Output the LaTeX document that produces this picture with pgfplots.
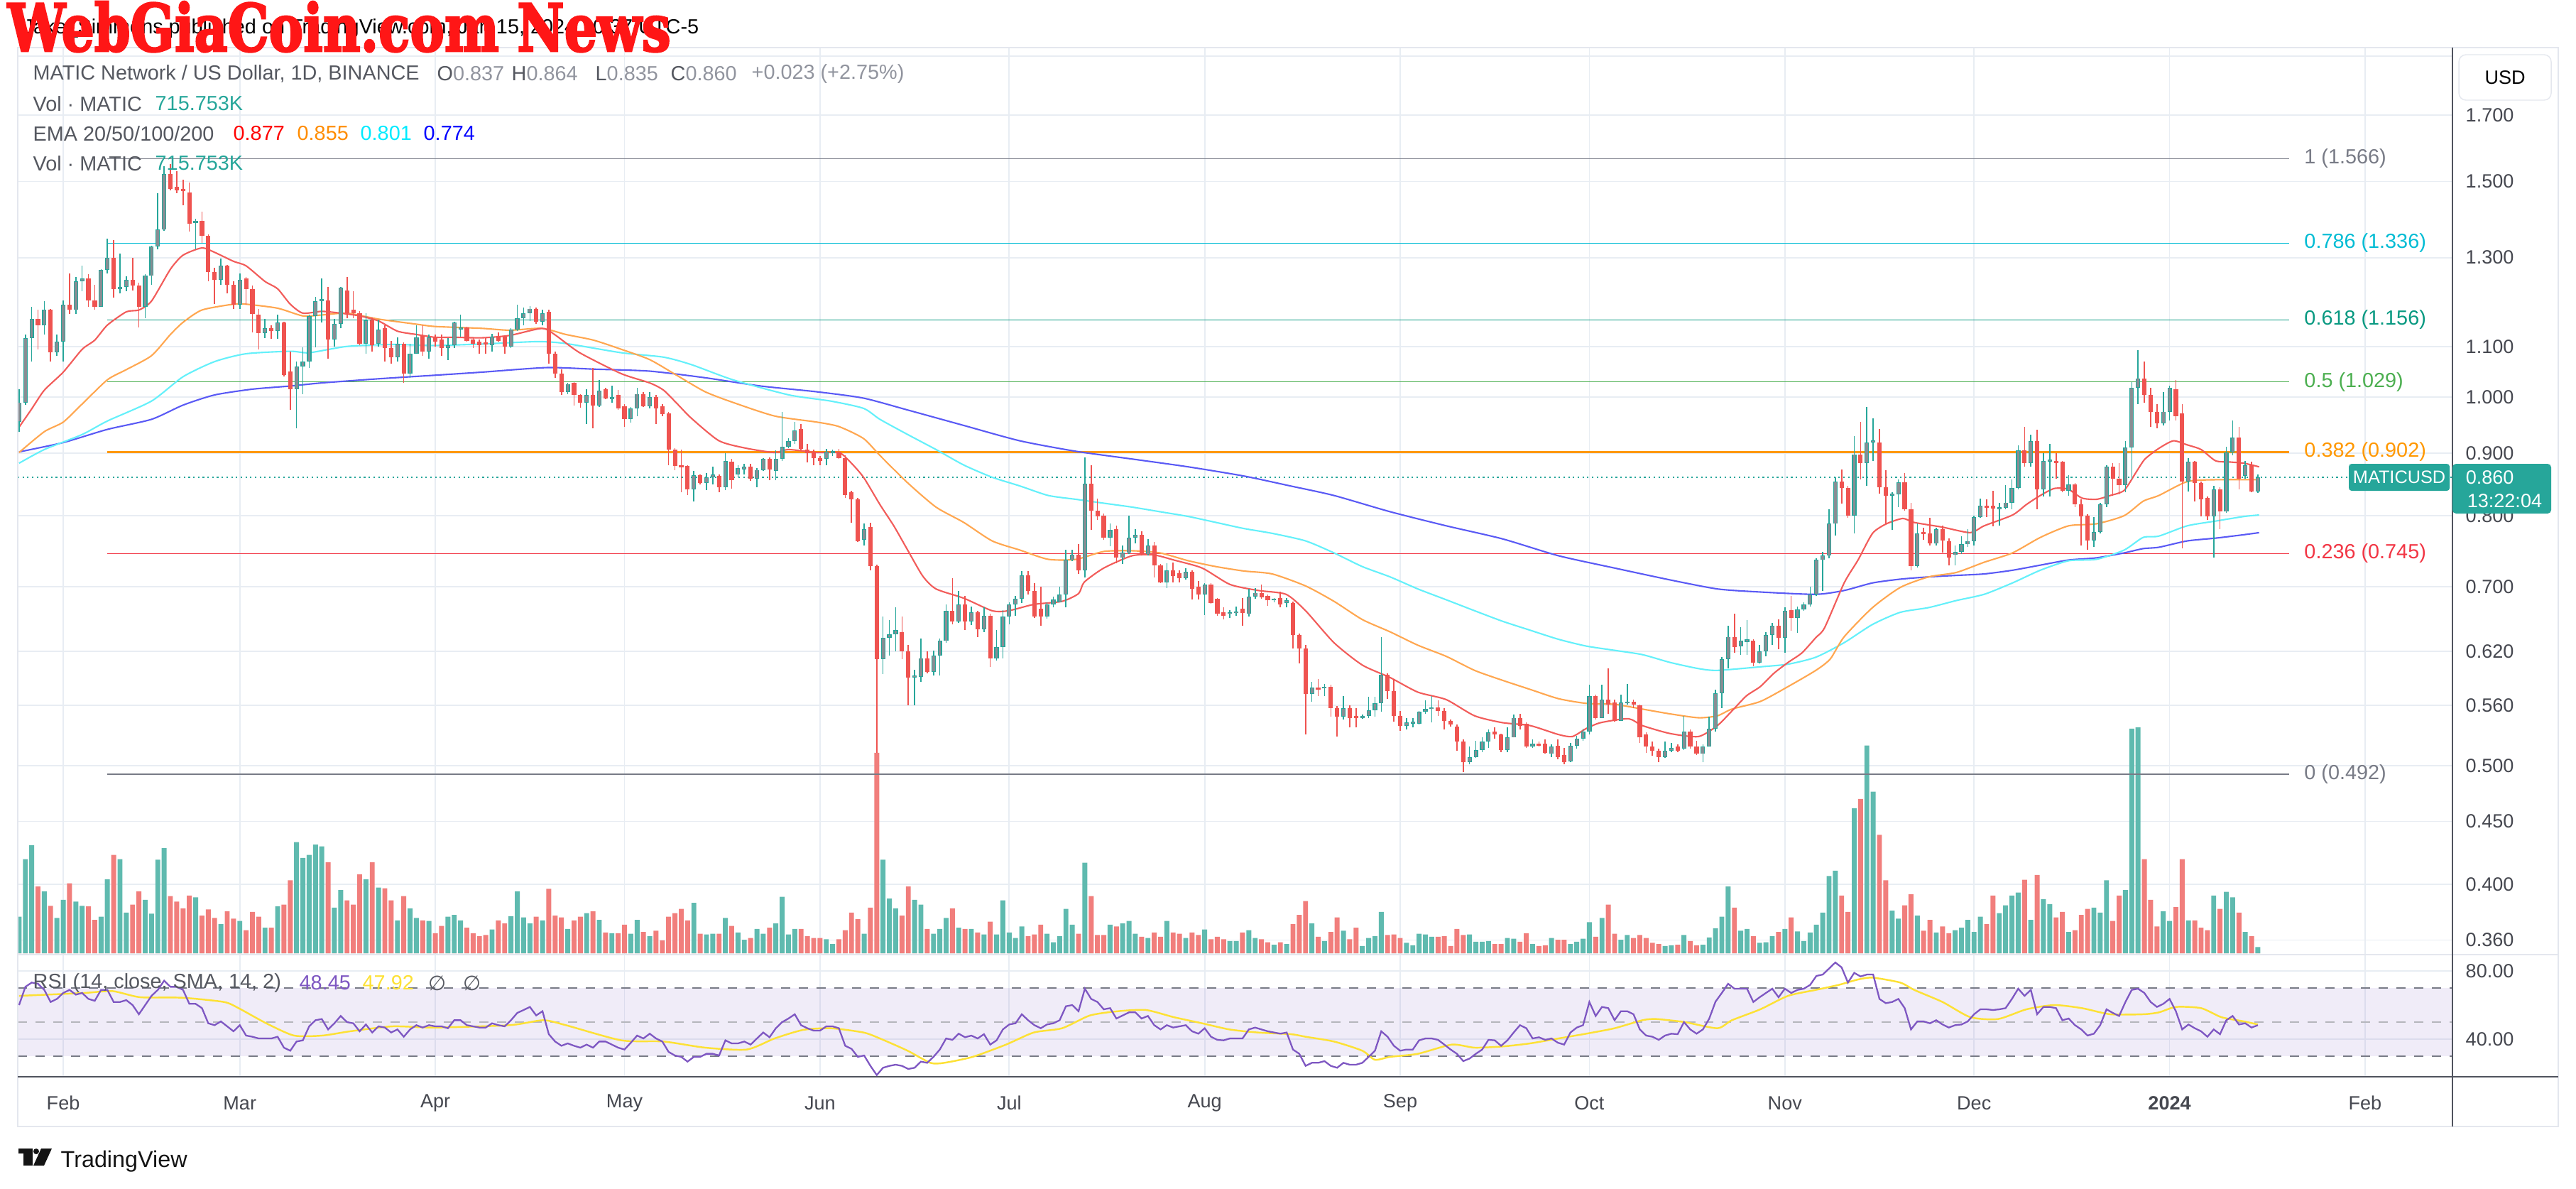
\documentclass[border=0pt]{standalone}
\usepackage{fontspec}
\setmainfont{Liberation Sans}
\newfontfamily\wmfont{DejaVu Serif Bold}[FakeBold=3]
\newfontfamily\djv{DejaVu Sans}
\usepackage{graphicx}
\usepackage{pgfplots}
\pgfplotsset{compat=1.18}
\usepackage{pgfplotstable}

\definecolor{upc}{RGB}{38,166,154}
\definecolor{upbody}{RGB}{136,141,147}
\definecolor{dnc}{RGB}{239,83,80}
\definecolor{volup}{RGB}{95,186,175}
\definecolor{voldn}{RGB}{241,126,124}
\definecolor{gridc}{RGB}{232,237,243}
\definecolor{framec}{RGB}{228,231,238}
\definecolor{axc}{RGB}{80,83,94}
\definecolor{lblc}{RGB}{70,72,80}
\definecolor{txtc}{RGB}{85,88,96}
\definecolor{valc}{RGB}{145,148,158}
\definecolor{emaA}{RGB}{242,92,90}
\definecolor{emaB}{RGB}{255,167,80}
\definecolor{emaC}{RGB}{100,240,250}
\definecolor{emaD}{RGB}{90,90,245}
\definecolor{fibA}{RGB}{120,123,134}
\definecolor{fibB}{RGB}{0,188,212}
\definecolor{fibC}{RGB}{8,153,129}
\definecolor{fibD}{RGB}{76,175,80}
\definecolor{fibE}{RGB}{255,152,0}
\definecolor{fibF}{RGB}{242,54,69}
\definecolor{rsic}{RGB}{126,87,194}
\definecolor{rsima}{RGB}{253,225,53}
\definecolor{wmred}{RGB}{255,22,22}

\newcommand\hf{\fontsize{8.2}{9.8}\selectfont}
\newcommand\lf{\fontsize{7.7}{9.2}\selectfont}

\pgfplotsset{pane/.style={scale only axis, width=342.9mm, xmin=-7.21, xmax=378.86,
  anchor=north west, axis line style={draw=none}, tick style={draw=none}}}

% daily candles: day index (0 = 1 Feb 2023), open, high, low, close, volume (relative)
\pgfplotstableread{
d o h l c v
-7 0.954 1.015 0.937 0.990 60
-6 0.990 1.125 0.985 1.117 155
-5 1.117 1.185 1.069 1.158 178
-4 1.158 1.178 1.094 1.145 110
-3 1.145 1.198 1.125 1.178 102
-2 1.178 1.180 1.069 1.088 78
-1 1.088 1.125 1.080 1.110 58
0 1.110 1.200 1.069 1.190 88
1 1.190 1.262 1.170 1.178 115
2 1.178 1.254 1.170 1.243 85
3 1.243 1.280 1.220 1.250 78
4 1.250 1.260 1.185 1.200 77
5 1.200 1.235 1.178 1.185 55
6 1.185 1.272 1.185 1.270 60
7 1.270 1.347 1.262 1.300 122
8 1.300 1.343 1.205 1.225 162
9 1.225 1.310 1.215 1.230 155
10 1.230 1.255 1.220 1.247 67
11 1.247 1.300 1.222 1.233 80
12 1.233 1.240 1.140 1.185 102
13 1.185 1.260 1.160 1.256 88
14 1.256 1.330 1.235 1.328 65
15 1.328 1.467 1.320 1.370 154
16 1.370 1.545 1.367 1.522 173
17 1.522 1.550 1.476 1.480 94
18 1.485 1.530 1.468 1.476 85
19 1.480 1.505 1.435 1.474 74
20 1.470 1.497 1.366 1.385 95
21 1.387 1.398 1.320 1.393 92
22 1.393 1.417 1.336 1.354 62
23 1.354 1.358 1.244 1.265 72
24 1.265 1.276 1.191 1.247 58
25 1.247 1.298 1.235 1.280 48
26 1.280 1.283 1.215 1.235 69
27 1.235 1.243 1.180 1.190 57
28 1.190 1.262 1.180 1.247 53
29 1.250 1.254 1.190 1.225 38
30 1.225 1.233 1.130 1.170 68
31 1.167 1.180 1.094 1.128 60
32 1.128 1.158 1.117 1.138 42
33 1.138 1.145 1.116 1.132 42
34 1.132 1.167 1.116 1.150 77
35 1.150 1.153 1.039 1.042 80
36 1.050 1.090 0.976 1.015 120
37 1.015 1.069 0.943 1.059 183
38 1.059 1.098 1.006 1.069 157
39 1.069 1.167 1.057 1.164 162
40 1.164 1.208 1.098 1.198 179
41 1.198 1.250 1.150 1.202 176
42 1.200 1.230 1.075 1.115 150
43 1.115 1.158 1.100 1.148 75
44 1.148 1.230 1.138 1.228 104
45 1.222 1.254 1.160 1.171 87
46 1.178 1.220 1.160 1.171 80
47 1.171 1.175 1.102 1.106 130
48 1.106 1.171 1.085 1.155 122
49 1.155 1.162 1.090 1.102 150
50 1.106 1.155 1.100 1.135 108
51 1.138 1.145 1.069 1.097 107
52 1.097 1.112 1.065 1.078 87
53 1.078 1.119 1.069 1.106 54
54 1.106 1.109 1.027 1.045 94
55 1.045 1.106 1.037 1.085 74
56 1.085 1.145 1.085 1.119 58
57 1.122 1.145 1.080 1.090 54
58 1.090 1.125 1.075 1.119 53
59 1.119 1.125 1.100 1.110 33
60 1.115 1.125 1.080 1.097 45
61 1.097 1.118 1.072 1.102 60
62 1.102 1.152 1.097 1.150 63
63 1.135 1.167 1.120 1.140 54
64 1.140 1.142 1.110 1.112 42
65 1.115 1.119 1.097 1.105 33
66 1.110 1.115 1.085 1.102 28
67 1.108 1.118 1.085 1.104 30
68 1.102 1.127 1.090 1.120 39
69 1.120 1.130 1.110 1.112 54
70 1.120 1.122 1.085 1.100 49
71 1.100 1.138 1.097 1.135 61
72 1.135 1.190 1.132 1.160 102
73 1.160 1.184 1.145 1.171 59
74 1.171 1.187 1.154 1.181 49
75 1.181 1.184 1.148 1.152 60
76 1.152 1.178 1.145 1.171 54
77 1.174 1.178 1.065 1.085 106
78 1.085 1.090 1.037 1.045 62
79 1.045 1.053 1.004 1.010 59
80 1.010 1.027 1.006 1.025 40
81 1.027 1.029 0.984 1.004 54
82 1.004 1.006 0.980 0.990 60
83 0.990 1.015 0.950 1.004 66
84 1.004 1.057 0.943 0.984 69
85 0.984 1.033 0.981 1.012 55
86 1.015 1.017 0.996 0.998 34
87 0.996 1.021 0.990 1.000 33
88 1.004 1.013 0.976 0.979 33
89 0.983 0.987 0.945 0.959 47
90 0.959 0.981 0.953 0.979 32
91 0.979 1.017 0.965 1.006 55
92 1.006 1.009 0.981 0.983 35
93 0.983 1.009 0.979 1.000 28
94 1.000 1.004 0.950 0.979 37
95 0.983 0.987 0.965 0.968 21
96 0.970 0.973 0.880 0.906 60
97 0.906 0.908 0.872 0.878 66
98 0.880 0.906 0.836 0.876 73
99 0.878 0.880 0.832 0.841 54
100 0.841 0.870 0.822 0.863 83
101 0.863 0.865 0.848 0.851 32
102 0.851 0.867 0.839 0.860 31
103 0.860 0.877 0.848 0.864 32
104 0.862 0.865 0.836 0.844 32
105 0.844 0.900 0.839 0.887 58
106 0.885 0.890 0.842 0.855 45
107 0.865 0.880 0.860 0.875 34
108 0.873 0.882 0.865 0.877 22
109 0.877 0.882 0.854 0.858 25
110 0.858 0.875 0.844 0.872 40
111 0.872 0.892 0.870 0.890 32
112 0.890 0.893 0.855 0.873 42
113 0.870 0.905 0.855 0.890 49
114 0.890 0.972 0.887 0.911 93
115 0.911 0.925 0.908 0.921 31
116 0.921 0.955 0.916 0.939 40
117 0.942 0.950 0.905 0.907 40
118 0.906 0.916 0.884 0.900 28
119 0.902 0.906 0.880 0.892 25
120 0.892 0.895 0.880 0.887 25
121 0.890 0.907 0.880 0.902 23
122 0.900 0.906 0.895 0.903 15
123 0.902 0.907 0.890 0.892 23
124 0.892 0.896 0.827 0.832 38
125 0.836 0.838 0.790 0.825 67
126 0.825 0.827 0.761 0.763 56
127 0.765 0.788 0.756 0.780 32
128 0.783 0.790 0.722 0.728 75
129 0.728 0.730 0.512 0.611 330
130 0.611 0.662 0.594 0.636 154
131 0.636 0.657 0.615 0.640 90
132 0.640 0.673 0.620 0.645 74
133 0.643 0.662 0.611 0.620 62
134 0.620 0.627 0.560 0.590 110
135 0.590 0.599 0.560 0.592 88
136 0.591 0.635 0.585 0.612 80
137 0.612 0.620 0.595 0.596 40
138 0.596 0.621 0.592 0.615 32
139 0.615 0.635 0.592 0.632 40
140 0.632 0.677 0.630 0.669 58
141 0.669 0.711 0.652 0.656 74
142 0.656 0.694 0.654 0.677 42
143 0.677 0.688 0.645 0.656 40
144 0.656 0.674 0.651 0.667 40
145 0.667 0.669 0.637 0.646 34
146 0.646 0.673 0.643 0.663 31
147 0.663 0.665 0.602 0.612 52
148 0.612 0.645 0.609 0.625 31
149 0.625 0.670 0.612 0.662 87
150 0.662 0.680 0.652 0.677 34
151 0.677 0.688 0.663 0.684 25
152 0.684 0.721 0.679 0.715 44
153 0.715 0.721 0.690 0.694 28
154 0.694 0.705 0.660 0.662 31
155 0.672 0.700 0.650 0.662 47
156 0.662 0.680 0.659 0.677 32
157 0.677 0.687 0.673 0.683 18
158 0.680 0.700 0.680 0.690 28
159 0.690 0.750 0.673 0.736 73
160 0.736 0.750 0.734 0.743 47
161 0.743 0.758 0.717 0.722 32
162 0.722 0.893 0.712 0.850 149
163 0.850 0.880 0.779 0.808 94
164 0.808 0.826 0.794 0.799 30
165 0.800 0.803 0.765 0.768 30
166 0.768 0.788 0.755 0.779 47
167 0.780 0.785 0.732 0.739 44
168 0.739 0.756 0.731 0.746 49
169 0.746 0.800 0.744 0.768 53
170 0.768 0.780 0.759 0.772 32
171 0.772 0.777 0.742 0.744 27
172 0.744 0.766 0.742 0.756 25
173 0.756 0.761 0.712 0.729 34
174 0.729 0.731 0.705 0.706 27
175 0.706 0.732 0.698 0.722 53
176 0.722 0.733 0.706 0.714 34
177 0.718 0.722 0.706 0.711 32
178 0.711 0.725 0.709 0.720 25
179 0.720 0.722 0.683 0.697 34
180 0.700 0.708 0.683 0.690 30
181 0.690 0.705 0.664 0.703 39
182 0.703 0.705 0.678 0.679 23
183 0.684 0.685 0.663 0.665 27
184 0.667 0.673 0.658 0.663 23
185 0.665 0.670 0.660 0.667 20
186 0.666 0.674 0.663 0.668 20
187 0.672 0.685 0.650 0.666 34
188 0.665 0.697 0.662 0.687 38
189 0.687 0.698 0.684 0.692 25
190 0.692 0.703 0.684 0.686 23
191 0.688 0.690 0.675 0.682 18
192 0.682 0.685 0.680 0.684 14
193 0.685 0.693 0.673 0.677 18
194 0.679 0.685 0.673 0.682 15
195 0.679 0.681 0.623 0.639 48
196 0.639 0.641 0.606 0.623 63
197 0.623 0.627 0.530 0.572 86
198 0.572 0.585 0.564 0.579 49
199 0.579 0.588 0.570 0.577 27
200 0.578 0.583 0.570 0.580 20
201 0.580 0.582 0.548 0.557 35
202 0.557 0.559 0.528 0.548 59
203 0.548 0.570 0.545 0.557 37
204 0.557 0.560 0.537 0.547 23
205 0.549 0.557 0.537 0.547 42
206 0.547 0.550 0.546 0.549 12
207 0.549 0.569 0.547 0.555 25
208 0.555 0.569 0.548 0.562 28
209 0.562 0.637 0.553 0.593 68
210 0.593 0.595 0.567 0.575 30
211 0.575 0.588 0.543 0.549 31
212 0.549 0.554 0.534 0.539 25
213 0.539 0.547 0.535 0.542 17
214 0.541 0.547 0.537 0.543 13
215 0.541 0.554 0.540 0.553 32
216 0.553 0.565 0.551 0.556 31
217 0.556 0.570 0.542 0.558 27
218 0.558 0.565 0.549 0.554 27
219 0.554 0.557 0.535 0.544 28
220 0.544 0.545 0.538 0.540 12
221 0.538 0.540 0.514 0.523 40
222 0.523 0.525 0.494 0.503 30
223 0.503 0.518 0.501 0.508 31
224 0.508 0.524 0.507 0.515 19
225 0.515 0.527 0.513 0.523 19
226 0.523 0.535 0.517 0.532 20
227 0.533 0.537 0.526 0.530 15
228 0.530 0.531 0.513 0.515 15
229 0.515 0.537 0.513 0.527 25
230 0.527 0.550 0.527 0.547 24
231 0.547 0.551 0.535 0.539 19
232 0.541 0.542 0.517 0.518 33
233 0.518 0.525 0.517 0.521 15
234 0.521 0.523 0.518 0.519 12
235 0.521 0.525 0.511 0.512 13
236 0.511 0.520 0.508 0.518 25
237 0.519 0.525 0.506 0.508 22
238 0.510 0.517 0.501 0.503 22
239 0.504 0.522 0.503 0.519 15
240 0.519 0.529 0.516 0.526 19
241 0.526 0.536 0.524 0.533 24
242 0.533 0.582 0.530 0.570 51
243 0.570 0.571 0.545 0.547 27
244 0.547 0.582 0.547 0.566 58
245 0.566 0.600 0.551 0.561 80
246 0.563 0.566 0.543 0.544 32
247 0.544 0.571 0.544 0.563 22
248 0.562 0.583 0.561 0.564 30
249 0.564 0.566 0.557 0.561 25
250 0.560 0.561 0.522 0.527 30
251 0.530 0.532 0.512 0.518 25
252 0.518 0.523 0.509 0.514 17
253 0.514 0.516 0.503 0.508 15
254 0.508 0.523 0.507 0.514 12
255 0.514 0.522 0.513 0.517 13
256 0.518 0.520 0.513 0.514 14
257 0.516 0.549 0.515 0.533 30
258 0.533 0.535 0.516 0.518 20
259 0.518 0.524 0.510 0.511 13
260 0.511 0.520 0.503 0.518 14
261 0.518 0.548 0.518 0.536 26
262 0.536 0.577 0.533 0.573 41
263 0.573 0.613 0.557 0.611 60
264 0.611 0.650 0.600 0.637 110
265 0.637 0.665 0.618 0.625 75
266 0.626 0.649 0.616 0.632 37
267 0.631 0.657 0.616 0.634 40
268 0.632 0.634 0.603 0.607 28
269 0.607 0.627 0.606 0.620 17
270 0.620 0.643 0.614 0.639 18
271 0.639 0.654 0.627 0.650 28
272 0.650 0.658 0.622 0.636 35
273 0.636 0.673 0.618 0.669 40
274 0.670 0.688 0.644 0.660 59
275 0.660 0.674 0.642 0.671 36
276 0.671 0.680 0.669 0.677 20
277 0.677 0.700 0.674 0.690 34
278 0.690 0.738 0.688 0.736 47
279 0.736 0.747 0.694 0.742 67
280 0.742 0.810 0.738 0.788 127
281 0.788 0.860 0.771 0.853 136
282 0.853 0.873 0.818 0.843 95
283 0.843 0.846 0.797 0.800 68
284 0.800 0.929 0.774 0.898 239
285 0.898 0.954 0.857 0.883 254
286 0.883 0.981 0.846 0.918 342
287 0.918 0.961 0.887 0.922 266
288 0.918 0.942 0.834 0.844 195
289 0.844 0.872 0.789 0.831 120
290 0.831 0.836 0.779 0.834 70
291 0.833 0.857 0.813 0.852 57
292 0.852 0.867 0.808 0.810 79
293 0.810 0.819 0.722 0.728 97
294 0.728 0.788 0.726 0.774 62
295 0.776 0.782 0.765 0.773 37
296 0.774 0.797 0.756 0.759 55
297 0.759 0.782 0.756 0.780 34
298 0.780 0.785 0.746 0.764 44
299 0.762 0.767 0.729 0.739 33
300 0.743 0.756 0.729 0.747 38
301 0.747 0.770 0.744 0.758 42
302 0.758 0.780 0.754 0.763 55
303 0.763 0.800 0.756 0.798 35
304 0.798 0.826 0.797 0.815 60
305 0.815 0.825 0.798 0.812 48
306 0.815 0.838 0.784 0.811 95
307 0.810 0.820 0.785 0.813 66
308 0.812 0.847 0.810 0.820 79
309 0.820 0.857 0.810 0.843 95
310 0.843 0.913 0.841 0.905 100
311 0.905 0.945 0.877 0.883 121
312 0.883 0.932 0.877 0.921 55
313 0.921 0.940 0.810 0.841 129
314 0.841 0.900 0.829 0.887 89
315 0.886 0.916 0.829 0.889 81
316 0.887 0.900 0.858 0.883 59
317 0.885 0.887 0.836 0.838 68
318 0.838 0.863 0.831 0.848 35
319 0.849 0.851 0.813 0.817 38
320 0.817 0.825 0.756 0.799 63
321 0.800 0.802 0.750 0.764 73
322 0.764 0.798 0.754 0.776 75
323 0.776 0.819 0.774 0.817 67
324 0.817 0.880 0.813 0.877 120
325 0.877 0.883 0.831 0.858 53
326 0.858 0.883 0.833 0.847 95
327 0.847 0.921 0.836 0.910 104
328 0.910 1.029 0.857 1.018 370
329 1.018 1.093 0.987 1.036 372
330 1.036 1.069 0.990 1.004 155
331 1.004 1.017 0.946 0.973 88
332 0.973 0.987 0.943 0.952 44
333 0.952 1.010 0.948 0.973 69
334 0.973 1.021 0.957 1.018 53
335 1.015 1.033 0.957 0.965 76
336 0.970 0.987 0.752 0.853 155
337 0.853 0.892 0.837 0.885 54
338 0.885 0.887 0.822 0.851 54
339 0.851 0.853 0.799 0.825 42
340 0.827 0.829 0.794 0.799 38
341 0.799 0.846 0.739 0.841 95
342 0.841 0.844 0.780 0.806 73
343 0.806 0.911 0.804 0.901 101
344 0.901 0.957 0.896 0.927 92
345 0.927 0.945 0.841 0.858 67
346 0.862 0.887 0.858 0.880 35
347 0.880 0.885 0.836 0.837 28
348 0.837 0.864 0.835 0.860 10
}\candles

\pgfplotstableread{
d p
-7 0.945
-5 0.978
-3 1.013
0 1.048
3 1.094
5 1.113
7 1.145
10 1.174
12 1.178
14 1.198
17 1.272
19 1.306
22 1.324
24 1.313
27 1.291
29 1.280
32 1.243
34 1.226
36 1.191
38 1.171
41 1.175
44 1.171
47 1.165
50 1.154
53 1.132
56 1.125
59 1.119
62 1.119
66.4 1.118
70.8 1.123
75.9 1.138
77.9 1.125
81.9 1.087
88.5 1.045
93 1.027
95.2 1.013
97.4 0.987
99.6 0.961
104 0.921
108.4 0.908
112.8 0.901
115 0.906
119.5 0.901
123 0.901
124.8 0.885
126.9 0.860
129.5 0.817
131.7 0.785
133.9 0.750
136.3 0.714
138.4 0.697
142.8 0.685
147.3 0.669
149.9 0.669
153.9 0.677
158.4 0.681
161 0.691
161.9 0.706
165 0.725
169.5 0.742
173 0.743
176.1 0.736
180.6 0.725
185 0.703
189.5 0.695
193.9 0.690
197 0.669
201.5 0.630
206 0.604
210.4 0.590
214.8 0.574
219.3 0.566
223.8 0.549
228.2 0.542
232.6 0.539
237.1 0.530
239.3 0.528
241.5 0.536
243.8 0.542
248.2 0.546
250.4 0.539
254.8 0.531
259.3 0.528
262.3 0.539
264.6 0.554
266.9 0.570
269.1 0.580
271.3 0.595
273.5 0.607
275.7 0.618
277.9 0.636
279.3 0.648
282.4 0.705
284.6 0.736
286.9 0.774
289.1 0.788
291.7 0.796
293.5 0.790
298 0.783
302.4 0.775
304.6 0.785
309.1 0.801
311.3 0.817
313.5 0.831
315.7 0.842
317.9 0.841
320.1 0.827
322.4 0.825
324.6 0.831
326.8 0.839
328.8 0.870
330.1 0.890
332.3 0.908
334.6 0.921
336.8 0.914
339 0.906
341.3 0.887
343.6 0.885
345.8 0.883
348.2 0.877
}\tEmaA

\pgfplotstableread{
d p
-7 0.901
-3 0.937
0 0.954
3 0.987
7 1.033
10 1.053
14 1.081
17 1.125
19 1.151
22 1.178
27 1.191
29 1.191
34 1.182
38 1.165
41 1.167
45 1.171
50 1.158
56 1.147
59 1.142
66.4 1.138
70.8 1.134
75.9 1.138
79.7 1.125
84.1 1.113
88.5 1.094
93 1.073
97.4 1.041
101.8 1.010
106.2 0.990
112.8 0.965
119.5 0.954
123 0.946
126.9 0.925
129.5 0.896
133.9 0.851
138.4 0.813
142.8 0.790
147.3 0.763
151.7 0.750
156.2 0.737
160.6 0.737
165 0.748
169.5 0.749
173.9 0.746
178.4 0.735
182.8 0.727
187.2 0.721
191.7 0.717
197 0.701
201.5 0.681
206 0.658
210.4 0.643
214.8 0.627
219.3 0.614
223.8 0.598
228.2 0.587
232.6 0.577
237.1 0.567
241.5 0.562
246 0.561
250.4 0.556
254.8 0.551
259.3 0.547
262.3 0.549
264.6 0.556
269.1 0.564
273.5 0.580
277.9 0.598
280.2 0.611
282.4 0.637
286.9 0.673
291.3 0.699
295.8 0.713
300.2 0.719
304.6 0.733
309.1 0.746
313.5 0.768
318 0.785
322.4 0.788
326.8 0.800
329.8 0.822
332.3 0.831
336.8 0.853
341.3 0.856
348.2 0.856
}\tEmaB

\pgfplotstableread{
d p
-7 0.883
-3 0.906
3 0.932
7 0.956
14 0.9925
19 1.039
24 1.069
29 1.085
36 1.090
39 1.087
45 1.100
52.2 1.104
58.9 1.102
66.4 1.105
75.2 1.110
79.7 1.106
88.5 1.087
95.2 1.078
99.6 1.063
106.2 1.033
115.1 1.004
121.7 0.9925
126.9 0.979
129.5 0.959
133.9 0.932
138.4 0.906
142.8 0.880
147.3 0.860
151.7 0.846
156.2 0.831
160.6 0.825
165 0.819
169.5 0.813
173.9 0.806
178.4 0.799
182.8 0.790
187.2 0.781
191.7 0.774
197 0.763
201.5 0.746
206 0.727
210.4 0.713
214.8 0.697
219.3 0.683
223.8 0.669
228.2 0.656
232.6 0.645
237.1 0.634
241.5 0.626
246 0.621
250.4 0.616
254.8 0.607
259.3 0.600
262.3 0.598
269.1 0.602
273.5 0.605
277.9 0.613
282.4 0.630
286.9 0.652
291.3 0.667
295.8 0.673
300.2 0.682
304.6 0.690
309.1 0.705
313.5 0.722
318 0.735
322.4 0.737
326.8 0.750
329.8 0.768
332.3 0.770
336.8 0.785
341.3 0.792
345.8 0.799
348.2 0.801
}\tEmaC

\pgfplotstableread{
d p
-7 0.902
0 0.918
7 0.941
14 0.959
19 0.985
24 1.004
30 1.015
36 1.021
41 1.027
50 1.035
59 1.042
66.4 1.048
76.6 1.057
84.1 1.054
93 1.050
101.8 1.037
110.6 1.021
119.5 1.010
126.9 0.998
133.9 0.976
142.8 0.948
151.7 0.921
160.6 0.903
169.5 0.890
178.4 0.877
187.2 0.862
194.6 0.846
201.5 0.831
210.4 0.806
219.3 0.785
228.2 0.766
237.1 0.742
246 0.725
254.8 0.709
262.3 0.697
269.1 0.693
277.9 0.690
282.4 0.695
286.9 0.705
291.3 0.710
295.8 0.713
300.2 0.715
304.6 0.717
309.1 0.722
313.5 0.729
318 0.736
322.4 0.739
326.8 0.746
329.8 0.752
332.3 0.754
336.8 0.763
341.3 0.767
345.8 0.772
348.2 0.775
}\tEmaD

\pgfplotstableread{
d a b c e f g h
7 1.566 1.336 1.156 1.029 0.902 0.745 0.492
353 1.566 1.336 1.156 1.029 0.902 0.745 0.492
}\tFib

\pgfplotstableread{
d p
-7.21 0.860
378.86 0.860
}\tPrice

\pgfplotstableread{
d r
-7 60.0
-6 70.7
-5 73.2
-4 72.5
-3 68.9
-2 61.8
-1 63.6
0 67.1
1 68.9
2 66.1
3 67.1
4 63.6
5 62.5
6 68.9
7 68.9
8 61.8
9 61.8
10 62.9
11 60.0
12 54.6
13 60.0
14 65.4
15 68.9
16 74.3
17 70.7
18 70.7
19 68.9
20 60.7
21 60.7
22 58.2
23 49.3
24 48.2
25 50.4
26 47.5
27 44.6
28 48.2
29 42.1
30 41.4
31 40.4
32 40.4
33 40.4
34 41.4
35 35.0
36 33.2
37 38.6
38 39.3
39 47.5
40 51.1
41 51.8
42 45.7
43 49.3
44 53.6
45 50.0
46 49.3
47 44.6
48 48.6
49 43.9
50 47.5
51 46.8
52 43.9
53 45.7
54 41.4
55 45.7
56 48.2
57 46.8
58 48.2
59 47.5
60 47.5
61 46.4
62 51.1
63 51.1
64 48.2
65 47.5
66 46.8
67 46.8
68 49.3
69 48.2
70 47.5
71 51.1
72 55.4
73 57.1
74 58.9
75 53.9
76 56.4
77 42.9
78 38.6
79 36.1
80 37.5
81 36.1
82 35.0
83 36.8
84 35.0
85 38.6
86 38.6
87 36.8
88 35.0
89 33.9
90 37.9
91 42.1
92 40.4
93 43.2
94 40.4
95 38.6
96 32.5
97 30.4
98 29.6
99 26.8
100 29.6
101 29.6
102 31.4
103 31.4
104 30.4
105 39.3
106 37.5
107 37.5
108 38.6
109 36.8
110 40.4
111 43.9
112 41.1
113 46.4
114 50.0
115 52.1
116 54.6
117 48.2
118 46.4
119 45.0
120 45.0
121 47.5
122 47.5
123 46.4
124 36.1
125 34.3
126 29.6
127 30.4
128 24.3
129 18.9
130 23.2
131 24.3
132 25.0
133 24.3
134 22.5
135 23.2
136 26.8
137 26.1
138 29.6
139 33.9
140 40.4
141 39.6
142 43.2
143 41.1
144 42.1
145 40.4
146 42.9
147 36.8
148 39.3
149 45.7
150 48.6
151 49.3
152 54.6
153 51.1
154 48.2
155 46.4
156 48.6
157 49.3
158 51.1
159 59.3
160 60.0
161 56.4
162 69.6
163 63.6
164 61.8
165 57.5
166 58.2
167 52.1
168 53.9
169 55.7
170 55.7
171 52.1
172 53.6
173 48.2
174 45.7
175 48.2
176 46.8
177 47.5
178 48.2
179 44.6
180 43.2
181 46.4
182 41.4
183 39.6
184 39.3
185 40.4
186 40.4
187 40.4
188 45.7
189 46.8
190 45.7
191 44.6
192 43.9
193 43.2
194 43.9
195 33.9
196 31.4
197 24.3
198 26.1
199 26.1
200 27.1
201 24.3
202 23.2
203 26.1
204 25.0
205 25.0
206 26.1
207 29.6
208 33.2
209 44.6
210 41.4
211 36.1
212 33.2
213 33.9
214 33.9
215 39.3
216 40.4
217 40.4
218 39.6
219 36.8
220 33.9
221 31.4
222 27.1
223 28.6
224 31.4
225 33.9
226 39.6
227 39.3
228 36.1
229 39.3
230 43.9
231 48.2
232 46.4
233 40.4
234 41.1
235 39.6
236 40.4
237 37.9
238 36.8
239 43.9
240 46.8
241 48.2
242 61.8
243 53.6
244 58.9
245 58.2
246 51.1
247 56.4
248 56.4
249 54.6
250 45.7
251 42.1
252 41.4
253 39.6
254 42.1
255 43.2
256 42.9
257 50.0
258 45.7
259 43.2
260 45.7
261 52.0
262 62.0
263 67.1
264 72.5
265 69.6
266 69.6
267 69.6
268 61.8
269 64.6
270 67.1
271 69.6
272 64.6
273 69.6
274 67.1
275 68.9
276 69.6
277 71.8
278 77.1
279 77.9
280 81.4
281 85.0
282 82.1
283 73.2
284 78.9
285 76.8
286 77.9
287 77.9
288 63.6
289 61.1
290 61.8
291 63.6
292 58.2
293 45.7
294 50.4
295 50.4
296 49.3
297 51.1
298 48.6
299 46.8
300 48.2
301 48.6
302 50.4
303 54.6
304 57.5
305 57.5
306 57.1
307 57.5
308 58.2
309 63.6
310 69.6
311 65.4
312 68.9
313 54.6
314 58.9
315 58.9
316 58.2
317 51.1
318 52.1
319 48.2
320 45.7
321 42.1
322 43.2
323 48.2
324 57.5
325 55.4
326 53.6
327 61.8
328 68.9
329 69.6
330 67.1
331 61.8
332 58.9
333 60.7
334 63.6
335 56.4
336 45.7
337 48.6
338 46.4
339 44.6
340 41.4
341 45.7
342 42.9
343 51.1
344 53.6
345 48.6
346 49.3
347 46.8
348 48.2
}\tRsi

\pgfplotstableread{
d r
-7 65.4
3.3 67.1
7.8 68.2
12.2 64.6
18.9 64.3
25.5 61.8
27.8 58.2
32.2 49.3
36.6 42.1
41.1 42.1
45.5 44.6
52.2 47.5
58.9 46.8
70.8 48.2
76.1 51.1
79.7 48.2
88.5 39.3
95.2 38.6
101.8 35.0
108.4 33.9
112.8 40.4
117.3 45.4
121.7 46.4
126.9 43.9
129.5 40.4
133.9 33.2
137.5 26.1
139.7 26.1
144.2 29.6
149.5 36.8
153.9 43.9
158.4 46.4
162.8 53.9
167.3 56.4
171.7 57.1
176.1 52.9
180.6 49.3
184.9 45.7
189.4 43.9
194.7 42.9
197 41.4
201.5 38.6
206 33.2
208 27.9
210.4 29.6
214.8 31.4
220.2 36.8
223.8 35.0
228.2 35.7
232.6 37.5
237.1 40.4
241.5 43.2
246 46.4
250.4 51.1
252.6 51.8
257.1 50.0
262.3 46.4
264.6 51.1
269.1 57.5
273.5 65.4
277.9 68.9
281.5 71.8
284.6 75.0
286.9 76.1
291.3 73.2
293.5 68.9
298 61.8
302.4 52.9
306.8 51.8
311.3 57.5
315.7 60.0
320.1 58.2
324.6 54.6
329.8 54.6
332.3 55.7
335 58.9
339 58.2
342.2 52.9
345.8 50.4
348 48.6
}\tRsiMa

\begin{document}
\begin{tikzpicture}
\path[use as bounding box] (0,0) rectangle (362.8mm,-167.3mm);
\fill[white] (0,0) rectangle (362.8mm,-167.3mm);

% ---------- price pane: grid and price scale ----------
\begin{axis}[pane, at={(2.5mm,-6.7mm)}, height=127.7mm, ymin=-1.0490, ymax=0.6575,
  xtick={0,28,59,89,120,150,181,212,242,273,303,334,365},
  xticklabels={,,,,,,,,,,,,},
  xticklabel style={opacity=0},
  ytick={0.6419,0.5306,0.4055,0.2624,0.0953,0,-0.1054,-0.2231,-0.3567,-0.4780,-0.5798,-0.6931,-0.7985,-0.9163,-1.0217},
  yticklabels={,1.700,1.500,1.300,1.100,1.000,0.900,0.800,0.700,0.620,0.560,0.500,0.450,0.400,0.360},
  yticklabel pos=right,
  yticklabel style={anchor=west, inner sep=0pt, xshift=1.8mm, font=\lf, text=lblc},
  grid=major, major grid style={draw=gridc, line width=0.5pt}]
\addplot[draw=none, forget plot] coordinates {(0,0)};
\end{axis}

% ---------- volume overlay ----------
\begin{axis}[pane, at={(2.5mm,-6.7mm)}, height=127.7mm, ymin=-2.34, ymax=1491.75, hide axis]
\addplot[ybar, bar width=0.78, bar shift=0pt, fill=volup, draw=none]
  table[x=d, y expr={(1-(\thisrow{c}<\thisrow{o}))*\thisrow{v}}]{\candles};
\addplot[ybar, bar width=0.78, bar shift=0pt, fill=voldn, draw=none]
  table[x=d, y expr={(\thisrow{c}<\thisrow{o})*\thisrow{v}}]{\candles};
\end{axis}

% ---------- price overlay: fib, EMA, candles ----------
\begin{axis}[pane, at={(2.5mm,-6.7mm)}, height=127.7mm, ymin=-1.0490, ymax=0.6575, hide axis, clip mode=individual]
\addplot[fibA, line width=0.45pt] table[x=d, y expr={ln(\thisrow{a})}]{\tFib};
\addplot[fibB, line width=0.45pt] table[x=d, y expr={ln(\thisrow{b})}]{\tFib};
\addplot[fibC, line width=0.45pt] table[x=d, y expr={ln(\thisrow{c})}]{\tFib};
\addplot[fibD, line width=0.45pt] table[x=d, y expr={ln(\thisrow{e})}]{\tFib};
\addplot[fibE, line width=0.75pt] table[x=d, y expr={ln(\thisrow{f})}]{\tFib};
\addplot[fibF, line width=0.45pt] table[x=d, y expr={ln(\thisrow{g})}]{\tFib};
\addplot[fibA, line width=0.45pt] table[x=d, y expr={ln(\thisrow{h})}]{\tFib};
\addplot[upc, line width=0.45pt, dash pattern=on 0.6pt off 1.3pt] table[x=d, y expr={ln(\thisrow{p})}]{\tPrice};
\addplot[emaD, line width=0.6pt, smooth, tension=0.4] table[x=d, y expr={ln(\thisrow{p})}]{\tEmaD};
\addplot[emaC, line width=0.6pt, smooth, tension=0.4] table[x=d, y expr={ln(\thisrow{p})}]{\tEmaC};
\addplot[emaB, line width=0.6pt, smooth, tension=0.4] table[x=d, y expr={ln(\thisrow{p})}]{\tEmaB};
\addplot[emaA, line width=0.6pt, smooth, tension=0.4] table[x=d, y expr={ln(\thisrow{p})}]{\tEmaA};
% wicks
\addplot[draw=none, mark=none, error bars/.cd, y dir=plus, y explicit, error mark=none,
  error bar style={draw=upc, line width=0.45pt}]
  table[x=d, y expr={ln(\thisrow{l})}, y error plus expr={(1-(\thisrow{c}<\thisrow{o}))*(ln(\thisrow{h})-ln(\thisrow{l}))}]{\candles};
\addplot[draw=none, mark=none, error bars/.cd, y dir=plus, y explicit, error mark=none,
  error bar style={draw=dnc, line width=0.45pt}]
  table[x=d, y expr={ln(\thisrow{l})}, y error plus expr={(\thisrow{c}<\thisrow{o})*(ln(\thisrow{h})-ln(\thisrow{l}))}]{\candles};
% bodies
\addplot[draw=none, mark=none, error bars/.cd, y dir=plus, y explicit, error mark=none,
  error bar style={draw=upc, line width=1.75pt}]
  table[x=d, y expr={ln(\thisrow{o})}, y error plus expr={(1-(\thisrow{c}<\thisrow{o}))*max(ln(\thisrow{c})-ln(\thisrow{o}),0.003)}]{\candles};
\addplot[draw=none, mark=none, error bars/.cd, y dir=plus, y explicit, error mark=none,
  error bar style={draw=upbody, line width=1.05pt}]
  table[x=d, y expr={ln(\thisrow{o})+0.0012}, y error plus expr={(1-(\thisrow{c}<\thisrow{o}))*max(ln(\thisrow{c})-ln(\thisrow{o})-0.0024,0.0006)}]{\candles};
\addplot[draw=none, mark=none, error bars/.cd, y dir=plus, y explicit, error mark=none,
  error bar style={draw=dnc, line width=1.75pt}]
  table[x=d, y expr={ln(\thisrow{c})}, y error plus expr={(\thisrow{c}<\thisrow{o})*max(ln(\thisrow{o})-ln(\thisrow{c}),0.003)}]{\candles};
% fib labels
\node[anchor=west, inner sep=0pt, font=\hf, text=fibA] at (axis cs:355.3,0.4485) {1 (1.566)};
\node[anchor=west, inner sep=0pt, font=\hf, text=fibB] at (axis cs:355.3,0.2897) {0.786 (1.336)};
\node[anchor=west, inner sep=0pt, font=\hf, text=fibC] at (axis cs:355.3,0.1450) {0.618 (1.156)};
\node[anchor=west, inner sep=0pt, font=\hf, text=fibD] at (axis cs:355.3,0.0286) {0.5 (1.029)};
\node[anchor=west, inner sep=0pt, font=\hf, text=fibE] at (axis cs:355.3,-0.1031) {0.382 (0.902)};
\node[anchor=west, inner sep=0pt, font=\hf, text=fibF] at (axis cs:355.3,-0.2944) {0.236 (0.745)};
\node[anchor=west, inner sep=0pt, font=\hf, text=fibA] at (axis cs:355.3,-0.7093) {0 (0.492)};
\end{axis}

% ---------- RSI pane ----------
\begin{axis}[pane, at={(2.5mm,-134.4mm)}, height=17.2mm, ymin=17.9, ymax=89.6,
  xtick={0,28,59,89,120,150,181,212,242,273,303,334,365},
  xticklabels={Feb,Mar,Apr,May,Jun,Jul,Aug,Sep,Oct,Nov,Dec,\textbf{2024},Feb},
  xticklabel style={anchor=center, yshift=-3.7mm, font=\lf, text=lblc},
  ytick={80,40}, yticklabels={80.00,40.00}, yticklabel pos=right,
  yticklabel style={anchor=west, inner sep=0pt, xshift=1.8mm, font=\lf, text=lblc},
  grid=major, major grid style={draw=gridc, line width=0.5pt}, clip mode=individual]
\fill[rsic, fill opacity=0.11] (axis cs:-7.21,30) rectangle (axis cs:378.86,70);
\draw[fibA, line width=0.5pt, dash pattern=on 1.25mm off 1.25mm] (axis cs:-7.21,70) -- (axis cs:378.86,70);
\draw[fibA, line width=0.5pt, dash pattern=on 1.25mm off 1.25mm] (axis cs:-7.21,30) -- (axis cs:378.86,30);
\draw[fibA!55, line width=0.45pt, dash pattern=on 1.25mm off 1.25mm] (axis cs:-7.21,50) -- (axis cs:378.86,50);
\addplot[rsima, line width=0.7pt, smooth, tension=0.4] table[x=d, y=r]{\tRsiMa};
\addplot[rsic, line width=0.65pt] table[x=d, y=r]{\tRsi};
\end{axis}

% ---------- frame, labels, annotations ----------
\begin{scope}[x=0.1mm, y=-0.1mm]
\draw[framec, line width=0.45pt] (25,67) rectangle (3603,1586);
\draw[framec, line width=0.6pt] (25,1344) -- (3603,1344);
\draw[axc, line width=0.65pt] (3454,67) -- (3454,1586);
\draw[axc, line width=0.65pt] (25,1516) -- (3603,1516);

% top line + watermark
\node[anchor=west, inner sep=0pt, font=\fontsize{8.2}{10}\selectfont, text=black] at (32,40)
  {Jake\_Simmons published on TradingView.com, Jan 15, 2024 10:37 UTC-5};
\node[anchor=base west, inner sep=0pt, text=wmred] at (10,72)
  {\resizebox{93.4mm}{7.0mm}{\wmfont WebGiaCoin.com News}};

% legend lines
\node[anchor=west, inner sep=0pt, font=\hf, text=txtc] at (46,104) {MATIC Network / US Dollar, 1D, BINANCE};
\node[anchor=west, inner sep=0pt, font=\hf] at (615,104) {\color{txtc}O\color{valc}0.837};
\node[anchor=west, inner sep=0pt, font=\hf] at (720,104) {\color{txtc}H\color{valc}0.864};
\node[anchor=west, inner sep=0pt, font=\hf] at (838,104) {\color{txtc}L\color{valc}0.835};
\node[anchor=west, inner sep=0pt, font=\hf] at (944,104) {\color{txtc}C\color{valc}0.860};
\node[anchor=west, inner sep=0pt, font=\hf, text=valc] at (1058,104) {+0.023 (+2.75\%)};
\node[anchor=west, inner sep=0pt, font=\hf, text=txtc] at (46,146) {Vol · MATIC};
\node[anchor=west, inner sep=0pt, font=\hf, text=upc] at (218,146) {715.753K};
\node[anchor=west, inner sep=0pt, font=\hf, text=txtc] at (46,188) {EMA 20/50/100/200};
\node[anchor=west, inner sep=0pt, font=\hf, text={rgb,255:red,255;green,0;blue,0}] at (328,188) {0.877};
\node[anchor=west, inner sep=0pt, font=\hf, text={rgb,255:red,255;green,140;blue,0}] at (418,188) {0.855};
\node[anchor=west, inner sep=0pt, font=\hf, text={rgb,255:red,0;green,235;blue,255}] at (507,188) {0.801};
\node[anchor=west, inner sep=0pt, font=\hf, text={rgb,255:red,0;green,0;blue,255}] at (596,188) {0.774};
\node[anchor=west, inner sep=0pt, font=\hf, text=txtc] at (46,230) {Vol · MATIC};
\node[anchor=west, inner sep=0pt, font=\hf, text=upc] at (218,230) {715.753K};

% RSI legend
\node[anchor=west, inner sep=0pt, font=\hf, text=txtc] at (46,1384) {RSI (14, close, SMA, 14, 2)};
\node[anchor=west, inner sep=0pt, font=\hf, text=rsic] at (421,1384) {48.45};
\node[anchor=west, inner sep=0pt, font=\hf, text=rsima] at (510,1384) {47.92};
\node[anchor=west, inner sep=0pt, font=\hf, text=txtc] at (603,1384) {\djv ∅};
\node[anchor=west, inner sep=0pt, font=\hf, text=txtc] at (652,1384) {\djv ∅};

% USD box
\draw[framec, fill=white, line width=0.4pt, rounded corners=1mm] (3463,77) rectangle (3593,141);
\node[font=\lf, text=black] at (3528,109) {USD};

% last price labels
\fill[upc, rounded corners=0.4mm] (3308,653) rectangle (3450,691);
\node[font=\fontsize{7.2}{8.6}\selectfont, text=white] at (3379,672) {MATICUSD};
\fill[upc, rounded corners=0.5mm] (3454,653) rectangle (3593,723);
\node[anchor=west, inner sep=0pt, font=\lf, text=white] at (3472,672) {0.860};
\node[anchor=west, inner sep=0pt, font=\lf, text=white] at (3474,705) {13:22:04};

% TradingView logo
\fill[black!92] (26,1617) rectangle (46,1624);
\fill[black!92] (33,1617) rectangle (46,1641);
\fill[black!92] (51,1621) circle[radius=0.4mm];
\fill[black!92] (58,1617) -- (73,1617) -- (62,1641) -- (47,1641) -- cycle;
\node[anchor=base west, inner sep=0pt, font=\fontsize{9.2}{11}\selectfont, text=black!92] at (85,1643) {TradingView};
\end{scope}
\end{tikzpicture}
\end{document}
